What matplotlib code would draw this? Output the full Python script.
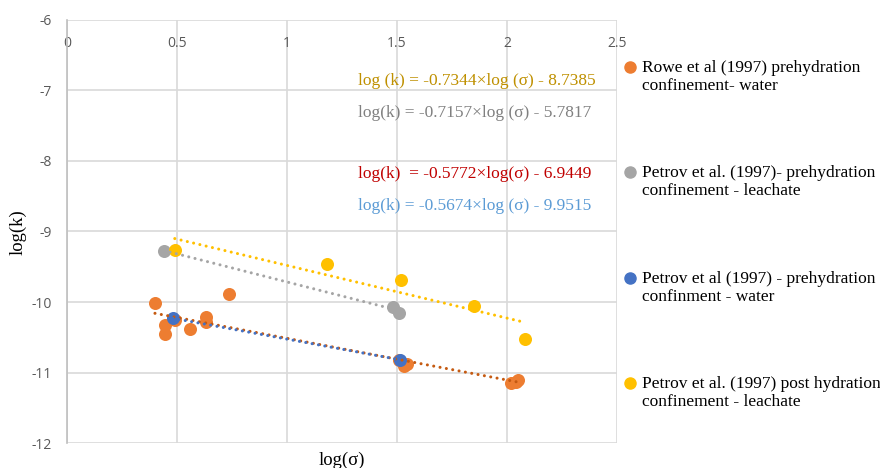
import numpy as np
import matplotlib.pyplot as plt
from matplotlib.lines import Line2D

plt.rcParams['axes.unicode_minus'] = False

# data (log sigma, log k)
rowe_x = [0.40, 0.445, 0.445, 0.49, 0.56, 0.63, 0.63, 0.735, 1.51, 1.53, 1.545, 2.02, 2.04, 2.05]
rowe_y = [-10.02, -10.33, -10.46, -10.26, -10.38, -10.21, -10.28, -9.89, -10.82, -10.91, -10.88, -11.15, -11.13, -11.10]
grey_x = [0.44, 1.48, 1.51]
grey_y = [-9.27, -10.07, -10.15]
blue_x = [0.48, 1.515]
blue_y = [-10.23, -10.82]
yell_x = [0.49, 1.18, 1.52, 1.85, 2.08]
yell_y = [-9.26, -9.46, -9.69, -10.06, -10.52]

labels = ["Rowe et al (1997) prehydration\nconfinement- water",
          "Petrov et al. (1997)- prehydration\nconfinement - leachate",
          "Petrov et al (1997) - prehydration\nconfinment - water",
          "Petrov et al. (1997) post hydration\nconfinement - leachate"]
equations = ["log (k) = -0.7344\u00d7log (\u03c3) - 8.7385",
             "log(k) = -0.7157\u00d7log (\u03c3) - 5.7817",
             "log(k)  = -0.5772\u00d7log(\u03c3) - 6.9449",
             "log(k) = -0.5674\u00d7log (\u03c3) - 9.9515"]

series = [(rowe_x, rowe_y, "#ED7D31", "#C55A11"),
          (grey_x, grey_y, "#A5A5A5", "#A5A5A5"),
          (blue_x, blue_y, "#4472C4", "#4472C4"),
          (yell_x, yell_y, "#FFC000", "#FFC000")]

fig = plt.figure(figsize=(8.8, 4.68), dpi=100)
ax = fig.add_axes([0.0761, 0.0534, 0.625, 0.9039])

for i, (xs, ys, c, tc) in enumerate(series):
    ax.scatter(xs, ys, s=88, color=c, zorder=3 + i, linewidths=0)

# linear trendlines over each series' x range
for i, (xs, ys, c, tc) in enumerate(series):
    m, b = np.polyfit(xs, ys, 1)
    xx = np.array([min(xs), max(xs)])
    ax.plot(xx, m * xx + b, color=tc, lw=2.2, ls=(0, (0.01, 2.1)),
            dash_capstyle='round', zorder=10 + i)

ax.set_xlim(0, 2.5)
ax.set_ylim(-12, -6)
ax.set_xticks(np.arange(0, 2.51, 0.5))
ax.set_xticklabels(["0", "0.5", "1", "1.5", "2", "2.5"])
ax.set_yticks(range(-12, -5))
ax.grid(True, color="#D9D9D9", lw=1.2)
ax.set_axisbelow(True)
for s in ["top", "right", "bottom"]:
    ax.spines[s].set_visible(False)
ax.spines["left"].set_color("#BFBFBF")
ax.spines["left"].set_linewidth(1.2)

ax.tick_params(axis="x", top=False, bottom=False, labeltop=True, labelbottom=False,
               pad=-22, labelcolor="#595959", length=0)
ax.tick_params(axis="y", left=False, pad=11, labelcolor="#595959", length=0)
for t in ax.get_xticklabels() + ax.get_yticklabels():
    t.set_fontfamily("Open Sans")
    t.set_fontsize(10)

serif = "Liberation Serif"
fig.text(342 / 880, 1 - 460 / 468, "log(\u03c3)", family=serif, fontsize=13.5,
         ha="center", va="center")
fig.text(18 / 880, 1 - 232 / 468, "log(k)", family=serif, fontsize=13.5,
         ha="center", va="center", rotation=90)

# trendline equations
eq_colors = ["#BF9000", "#808080", "#C00000", "#5B9BD5"]
eq_y = [81, 113, 174, 206]
for eq, c, yy in zip(equations, eq_colors, eq_y):
    fig.text(358 / 880, 1 - yy / 468, eq, family=serif, fontsize=12.5,
             color=c, ha="left", va="center")

# legend on the right
leg_y = [77, 182, 288, 393]
for lab, (xs, ys, c, tc), yy in zip(labels, series, leg_y):
    fig.add_artist(Line2D([630 / 880], [1 - (yy - 10) / 468], marker="o",
                          color=c, markersize=8, transform=fig.transFigure))
    fig.text(642 / 880, 1 - yy / 468, lab, family=serif, fontsize=12.5,
             ha="left", va="center", linespacing=1.15)

fig.savefig("out.png", dpi=100)
